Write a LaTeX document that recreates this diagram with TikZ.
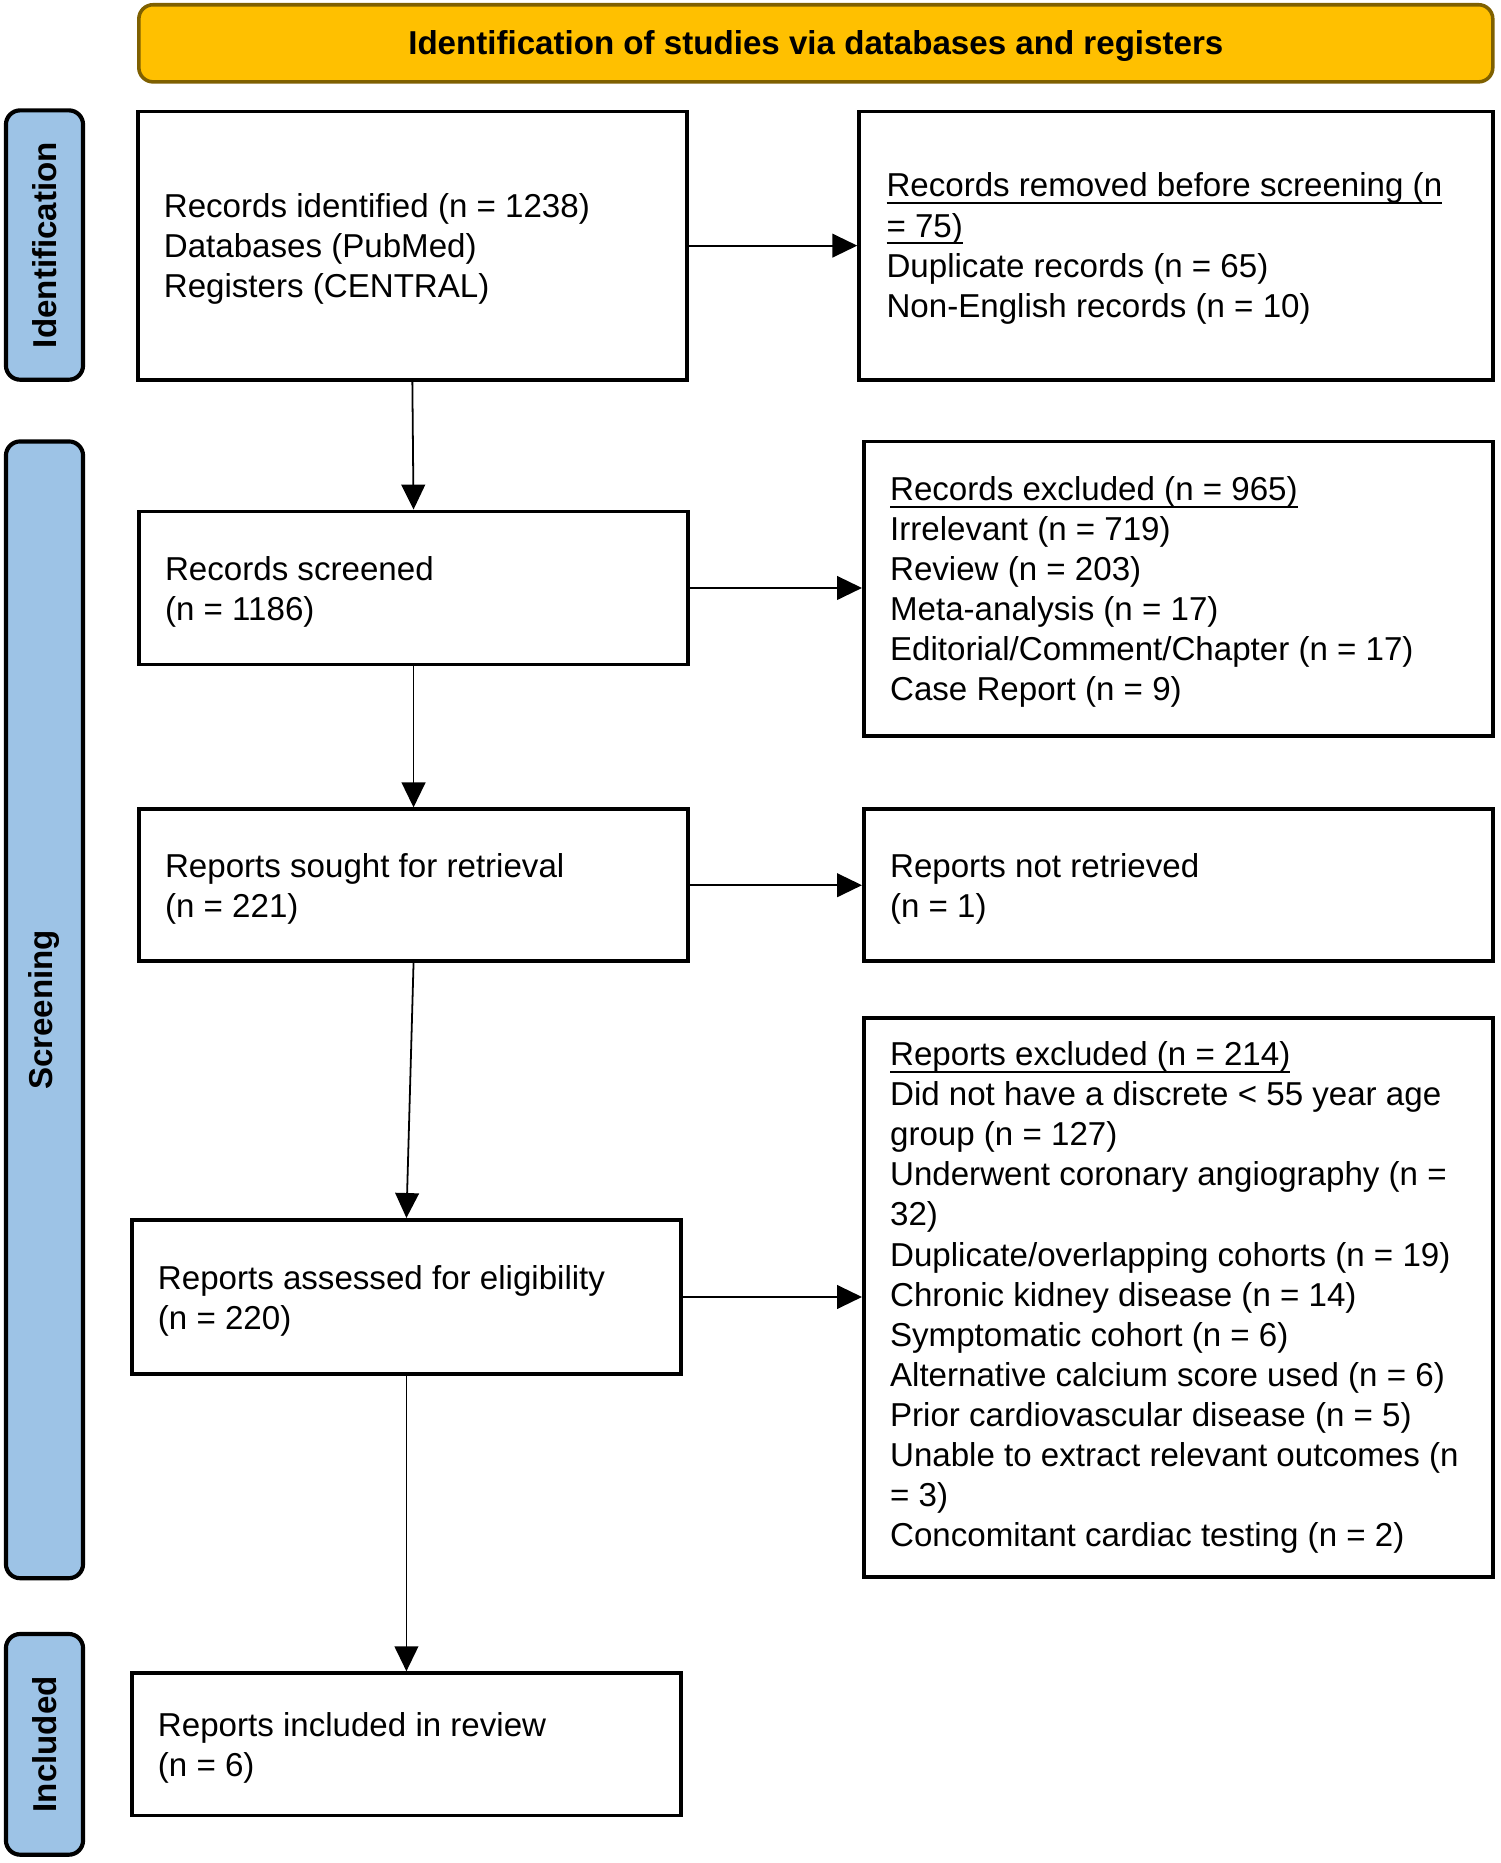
\documentclass[tikz,border=0pt]{standalone}
\usepackage{fontspec}
\setmainfont{Liberation Sans}
\usetikzlibrary{arrows.meta}
\definecolor{hdrfill}{HTML}{FFC000}
\definecolor{hdrline}{HTML}{7F6000}
\definecolor{lblfill}{HTML}{9DC3E6}
\newcommand{\myul}[1]{\setbox0\hbox{#1}\rlap{\rule[-6pt]{\wd0}{1.6pt}}\box0}
\begin{document}
\begin{tikzpicture}[x=1pt,y=-1pt,
  box/.style={draw=black, line width=3.2pt, inner sep=0pt},
  txt/.style={align=left, anchor=west, inner sep=0pt, font=\fontsize{27.9}{33.8}\selectfont},
  arr/.style={line width=1.5pt, -{Triangle[length=21pt,width=20pt]}},
  lbl/.style={draw=black, fill=lblfill, line width=3.5pt, rounded corners=12pt, rotate=90, minimum height=65pt, inner sep=0pt, font=\bfseries\fontsize{27.9}{33.8}\selectfont},
  hdr/.style={draw=hdrline, fill=hdrfill, line width=3pt, rounded corners=12pt, inner sep=0pt},
  hdrtxt/.style={inner sep=0pt, font=\bfseries\fontsize{27.9}{33.8}\selectfont}]
\useasboundingbox (0,0) rectangle (1264.1,1570);

% header
\node[hdr, minimum width=1141pt, minimum height=65pt] (hd) at (687.5,36.5) {};
\node[hdrtxt] (hdt) at ([yshift=-2.5pt]hd.center) {Identification of studies via databases and registers};

% side labels
\node[lbl, minimum width=227pt] (L1) at (37.5,206.5) {Identification};
\node[lbl, minimum width=958pt] (L2) at (37.5,851) {Screening};
\node[lbl, minimum width=186pt] (L3) at (37.5,1470) {Included};

% boxes
\node[box, minimum width=463pt, minimum height=226pt] (A) at (347.5,207) {};
\node[box, minimum width=534pt, minimum height=226pt] (B) at (991,207) {};
\node[box, minimum width=463pt, minimum height=129pt] (C) at (348.5,495.5) {};
\node[box, minimum width=530pt, minimum height=248pt] (D) at (993,496) {};
\node[box, minimum width=463pt, minimum height=128pt] (E) at (348.5,746) {};
\node[box, minimum width=530pt, minimum height=128pt] (F) at (993,746) {};
\node[box, minimum width=463pt, minimum height=130pt] (G) at (342.5,1093) {};
\node[box, minimum width=530pt, minimum height=471pt] (H) at (993,1093.5) {};
\node[box, minimum width=463pt, minimum height=120pt] (I) at (342.5,1470) {};

% texts
\node[txt] (At) at ([xshift=23.5pt,yshift=-2.5pt]A.west) {Records identified (n = 1238)\\Databases (PubMed)\\Registers (CENTRAL)};
\node[txt] (Bt) at ([xshift=24.5pt,yshift=-2.5pt]B.west) {\myul{Records removed before screening (n}\\\myul{= 75)}\\Duplicate records (n = 65)\\Non-English records (n = 10)};
\node[txt] (Ct) at ([xshift=23.5pt,yshift=-3pt]C.west) {Records screened\\(n = 1186)};
\node[txt] (Dt) at ([xshift=23.5pt,yshift=-3pt]D.west) {\myul{Records excluded (n = 965)}\\Irrelevant (n = 719)\\Review (n = 203)\\Meta-analysis (n = 17)\\Editorial/Comment/Chapter (n = 17)\\Case Report (n = 9)};
\node[txt] (Et) at ([xshift=23.5pt,yshift=-3pt]E.west) {Reports sought for retrieval\\(n = 221)};
\node[txt] (Ft) at ([xshift=23.5pt,yshift=-3pt]F.west) {Reports not retrieved\\(n = 1)};
\node[txt] (Gt) at ([xshift=23.5pt,yshift=-3pt]G.west) {Reports assessed for eligibility\\(n = 220)};
\node[txt] (Ht) at ([xshift=23.5pt,yshift=0pt]H.west) {\myul{Reports excluded (n = 214)}\\Did not have a discrete < 55 year age\\group (n = 127)\\Underwent coronary angiography (n =\\32)\\Duplicate/overlapping cohorts (n = 19)\\Chronic kidney disease (n = 14)\\Symptomatic cohort (n = 6)\\Alternative calcium score used (n = 6)\\Prior cardiovascular disease (n = 5)\\Unable to extract relevant outcomes (n\\= 3)\\Concomitant cardiac testing (n = 2)};
\node[txt] (It) at ([xshift=23.5pt,yshift=-3pt]I.west) {Reports included in review\\(n = 6)};

% arrows
\draw[arr] (A.east) -- (B.west);
\draw[arr] (A.south) -- (C.north);
\draw[arr] (C.east) -- (D.west |- C.east);
\draw[arr] (C.south) -- (E.north);
\draw[arr] (E.east) -- (F.west);
\draw[arr] (E.south) -- (G.north);
\draw[arr] (G.east) -- (H.west |- G.east);
\draw[arr] (G.south) -- (I.north);
\end{tikzpicture}
\end{document}
